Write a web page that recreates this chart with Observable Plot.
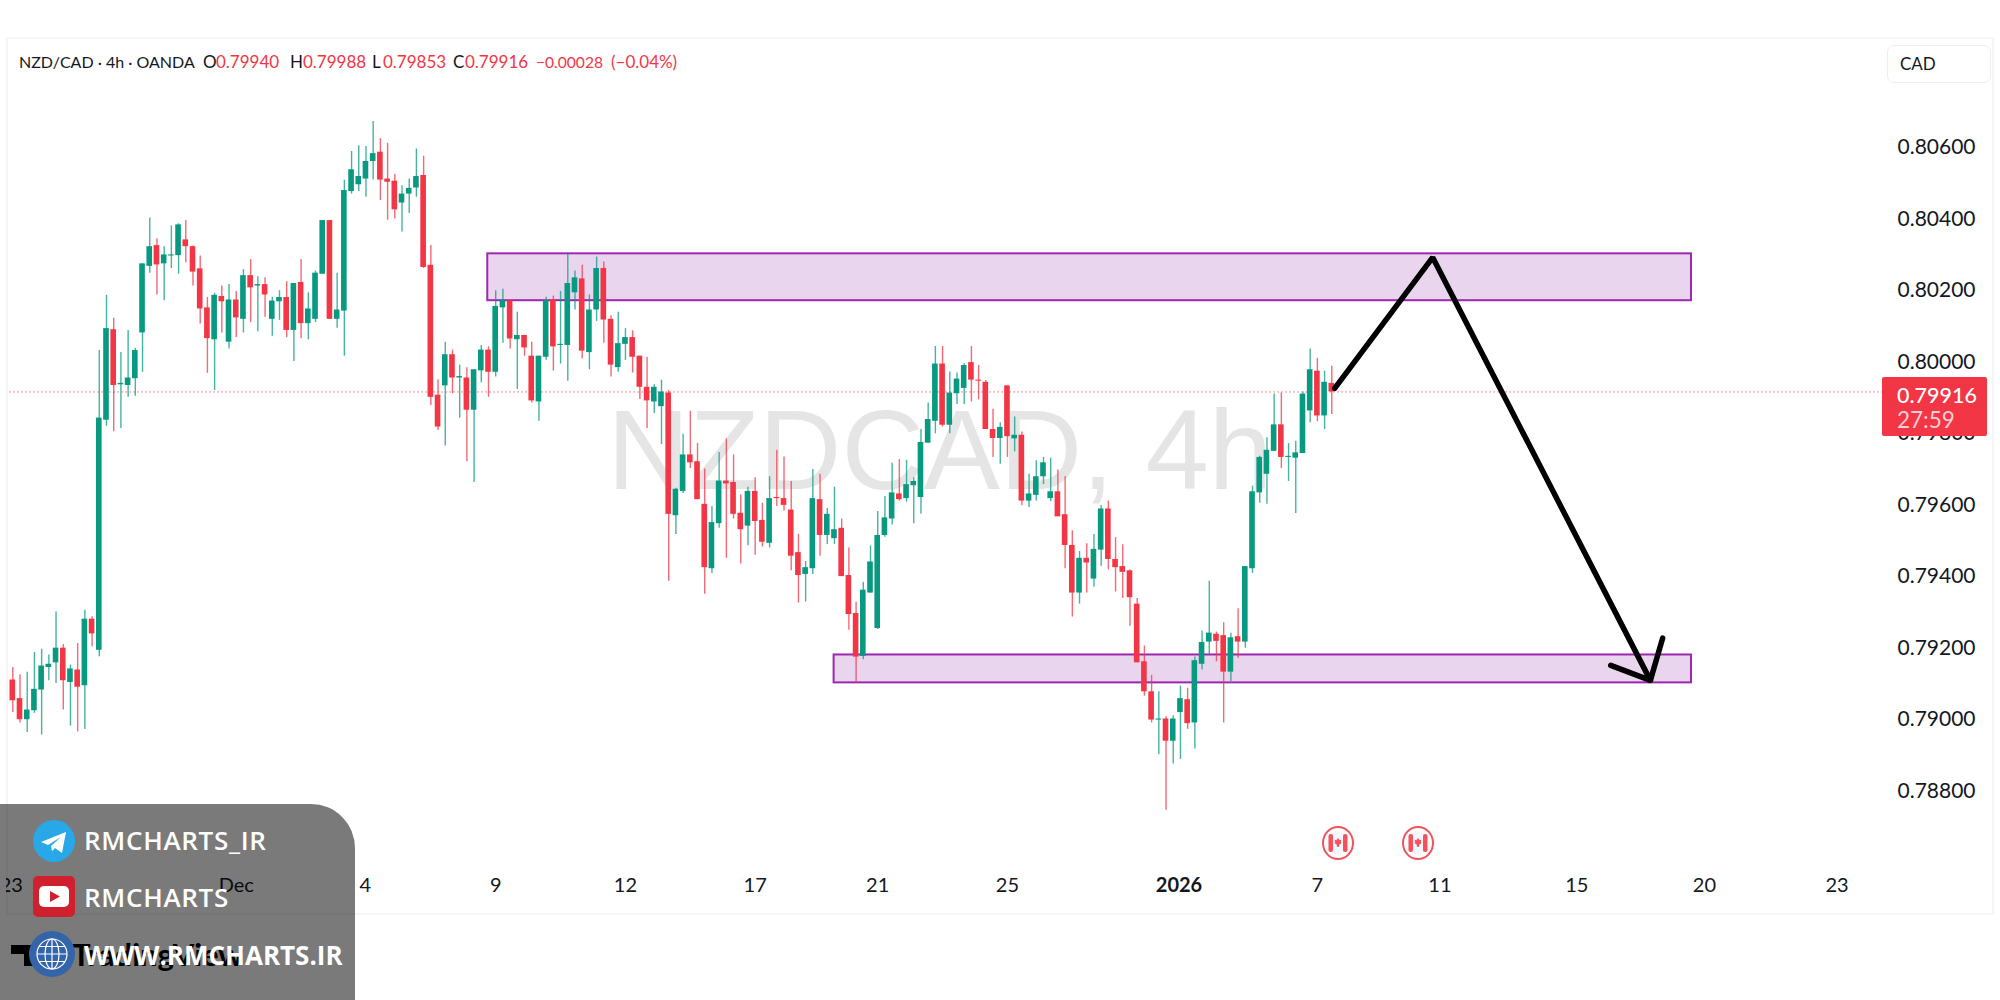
<!DOCTYPE html>
<html><head><meta charset="utf-8">
<script src="https://cdn.jsdelivr.net/npm/d3@7"></script>
<script src="https://cdn.jsdelivr.net/npm/@observablehq/plot@0.6"></script>
<style>
html,body{margin:0;padding:0;background:#fff;width:2000px;height:1000px;overflow:hidden;font-family:Lato,sans-serif}
#page{position:relative;width:2000px;height:1000px}
#chart{position:absolute;left:0;top:0}
.abs{position:absolute}
#legend{left:19px;top:52px;font-size:17px;line-height:20px;color:#131722;white-space:nowrap}
#legend b{font-weight:400;color:#f23645}
#legend span{position:absolute;top:0}
#frame{left:6px;top:37px;width:1984px;height:874px;border:2px solid #f5f5f6;border-radius:2px}
#clip{left:0;top:37px;width:6px;height:880px;background:#fff}
#cad{left:1887px;top:45px;width:102px;height:36px;border:1px solid #eceef2;border-radius:7px;background:#fff;font-size:17px;line-height:35px;color:#131722;text-indent:12px}
#tag{left:1882px;top:377px;width:105px;height:59px;background:#f23645;border-radius:2px;color:#fff}
#tag div{position:absolute;left:15px;white-space:nowrap}
#panel{left:0;top:804px;width:355px;height:196px;background:rgba(0,0,0,.52);border-top-right-radius:44px}
.wm{position:absolute;left:84px;color:#fff;font-family:"Open Sans",sans-serif;font-weight:600;font-size:26px;line-height:30px;white-space:nowrap;letter-spacing:.7px}
</style></head><body>
<div id="page">
<div id="frame" class="abs"></div>
<div id="chart"></div>
<div id="clip" class="abs"></div>
<div id="legend" class="abs"></div>
<div id="cad" class="abs">CAD</div>
<div id="tag" class="abs"></div>
<svg id="icons" class="abs" style="left:0;top:0" width="2000" height="1000"></svg>
<div id="panel" class="abs"></div>
<svg id="logos" class="abs" style="left:0;top:0" width="2000" height="1000"></svg>
<div class="wm" style="top:825px">RMCHARTS_IR</div>
<div class="wm" style="top:882px">RMCHARTS</div>
<div class="wm" style="top:940px;font-weight:700;letter-spacing:0">WWW.RMCHARTS.IR</div>
</div>
<script>
const opens=[79111,79059,79000,79025,79083,79146,79159,79200,79104,79139,
79095,79281,79194,79837,80090,79936,79934,79953,80081,80267,
80325,80274,80296,80297,80341,80322,80260,80151,80062,80183,
80055,80173,80119,80241,80212,80216,80119,80168,80180,80088,
80222,80107,80119,80245,80395,80119,80142,80476,80495,80511,
80560,80586,80511,80505,80444,80469,80486,80521,80270,79907,
79933,80020,79955,79955,79865,79975,80033,79971,80151,80171,
80062,80074,80016,79888,80013,80173,80046,80046,80193,80232,
80026,80145,80261,80119,79984,80049,80068,80016,79929,79888,
79875,79913,79570,79638,79740,79721,79602,79422,79548,79667,
79663,79577,79541,79638,79557,79493,79621,79618,79586,79467,
79406,79422,79615,79515,79506,79535,79403,79297,79177,79354,
79255,79515,79561,79631,79618,79654,79621,79773,79834,79994,
79823,79911,79926,79998,79949,79943,79811,79786,79933,79785,
79795,79611,79627,79679,79618,79637,79573,79487,79354,79451,
79393,79474,79589,79448,79428,79416,79323,79162,79078,78999,
79002,78940,79020,79056,78991,79155,79217,79239,79235,79133,
79232,79217,79422,79634,79686,79750,79824,79733,79731,79744,
79863,79974,79849,79940];
const highs=[79146,79126,79133,79188,79197,79181,79301,79210,79153,79213,
79306,79288,80032,80186,80122,80026,80088,80038,80274,80402,
80344,80322,80380,80386,80395,80324,80296,80180,80192,80212,
80216,80197,80258,80286,80238,80235,80181,80199,80224,80219,
80286,80193,80254,80395,80395,80248,80508,80588,80604,80602,
80672,80624,80611,80524,80492,80511,80595,80575,80325,79950,
80055,80033,79991,79984,79978,80046,80042,80199,80203,80171,
80139,80074,80055,80016,80181,80184,80197,80304,80254,80270,
80187,80293,80279,80129,80139,80093,80087,80016,80013,79936,
79949,79920,79647,79798,79862,79772,79701,79596,79747,79785,
79740,79628,79650,79676,79605,79679,79753,79734,79666,79518,
79442,79699,79686,79590,79650,79561,79480,79328,79384,79486,
79582,79624,79717,79727,79725,79676,79811,79885,80043,80043,
79972,79969,79995,80043,79990,79948,79868,79830,79933,79846,
79804,79686,79724,79733,79731,79698,79679,79528,79470,79492,
79518,79599,79611,79509,79489,79419,79339,79206,79124,79078,
79008,79011,79094,79088,79175,79248,79387,79245,79271,79242,
79310,79428,79653,79736,79788,79910,79913,79772,79778,79916,
80036,80010,79974,79988];
const lows=[79020,78991,78964,79018,78957,79109,79101,79027,78982,78966,
78973,79204,79176,79820,79805,79814,79901,79904,79971,80248,
80187,80171,80261,80245,80277,80212,80106,79968,79920,80081,
80036,80068,80081,80110,80084,80125,80072,80116,80068,80001,
80065,80062,80110,80245,80119,80094,80016,80469,80476,80460,
80508,80451,80396,80399,80363,80415,80460,80261,79878,79808,
79765,79911,79843,79721,79663,79942,79901,79958,80052,80036,
79923,80016,79885,79834,80004,79974,79994,79946,80145,80009,
79978,80113,80052,79958,79971,80004,79969,79895,79814,79856,
79769,79387,79518,79632,79702,79615,79351,79409,79535,79451,
79561,79435,79486,79460,79483,79480,79596,79583,79416,79326,
79329,79406,79457,79490,79490,79400,79250,79101,79168,79354,
79252,79510,79544,79611,79608,79548,79574,79773,79799,79818,
79799,79881,79881,79888,79894,79811,79733,79714,79733,79749,
79598,79593,79611,79657,79609,79567,79422,79287,79323,79354,
79370,79429,79419,79357,79339,79261,79159,79066,78991,78902,
78747,78876,78889,78973,78918,79139,79180,79162,78991,79107,
79172,79200,79409,79605,79602,79750,79702,79666,79576,79744,
79830,79833,79811,79853];
const closes=[79053,79000,79027,79085,79150,79155,79200,79109,79142,79091,
79281,79240,79843,80093,79934,79940,79955,80032,80274,80322,
80271,80299,80299,80383,80322,80251,80148,80065,80186,80168,
80173,80123,80241,80207,80216,80187,80170,80180,80088,80219,
80107,80148,80248,80395,80119,80145,80479,80537,80518,80560,
80582,80508,80502,80425,80469,80485,80518,80264,79901,79818,
80020,79955,79959,79865,79978,80033,79971,80155,80171,80064,
80074,80039,79891,80016,80171,80042,80049,80219,80235,80030,
80145,80261,80117,79991,80051,80068,80013,79929,79891,79929,
79916,79574,79644,79740,79718,79615,79425,79551,79667,79659,
79574,79531,79638,79554,79496,79618,79618,79599,79457,79403,
79425,79618,79515,79574,79531,79400,79294,79175,79362,79441,
79515,79564,79634,79615,79657,79666,79775,79839,79994,79823,
79913,79952,79990,79949,79946,79811,79786,79817,79791,79795,
79611,79631,79679,79718,79637,79567,79487,79354,79451,79438,
79476,79589,79448,79425,79412,79341,79159,79078,78999,79002,
78940,79002,79059,78989,79165,79216,79242,79219,79133,79229,
79217,79428,79637,79733,79753,79824,79733,79736,79746,79910,
79978,79849,79943,79916];
const priceUnit=1e-5;
const yTicks=[0.806,0.804,0.802,0.8,0.798,0.796,0.794,0.792,0.79,0.788];
const xTickIdx=[-0.2,31,48.9,67,85,103,120,138,181,198,217,234.7,253.1];
const xTickLabels=["23","Dec","4","9","12","17","21","25","7","11","15","20","23"];
const yearIdx=[161.8];
const yearLabels=["2026"];
const lastPrice=0.79916;
const zones=[{i1:65.9,i2:232.9,p1:0.80302,p2:0.80171},{i1:113.95,i2:232.9,p1:0.79181,p2:0.79103}];
const projection=[{i:183.4,p:0.79926},{i:197,p:0.80292},{i:227.2,p:0.7911}];
const arrowHead=[{i:221.7,p:0.79152},{i:227.2,p:0.7911},{i:228.9,p:0.79228}];
const watermark="NZDCAD, 4h";

const candles=opens.map((o,i)=>({i,o:o*priceUnit,h:highs[i]*priceUnit,l:lows[i]*priceUnit,c:closes[i]*priceUnit}));
const GREEN="#089981",RED="#f23645";
const col=d=>d.c>=d.o?GREEN:RED;
const FONT="Lato, sans-serif";

const plot=Plot.plot({
  width:2000,height:1000,
  marginLeft:0,marginTop:0,marginRight:123,marginBottom:125,
  style:{background:"transparent",fontFamily:FONT,overflow:"visible"},
  x:{domain:[0,183],range:[12.3,1331.3]},
  y:{domain:[0.806,0.788],range:[146.7,790.8]},
  marks:[
    Plot.text([watermark],{x:()=>128.6,y:()=>0.79645,text:d=>d,fontSize:114,fontFamily:"Liberation Sans, sans-serif",fill:"#e5e5e5",lineAnchor:"bottom",textAnchor:"middle"}),
    Plot.ruleY([lastPrice],{x1:()=>-0.4,x2:()=>259.4,stroke:RED,strokeWidth:1,strokeDasharray:"1.5 2.5",strokeOpacity:0.75}),
    Plot.rect(zones,{x1:"i1",x2:"i2",y1:"p1",y2:"p2",fill:"#ead5ef",stroke:"#9c27b0",strokeWidth:2}),
    Plot.ruleX(candles,{x:"i",y1:"h",y2:"l",stroke:col,strokeWidth:1.4,strokeOpacity:0.75}),
    Plot.rect(candles,{x1:d=>d.i-0.39,x2:d=>d.i+0.39,y1:"o",y2:"c",fill:col}),
    Plot.line(projection,{x:"i",y:"p",stroke:"#000",strokeWidth:5.5,strokeLinejoin:"miter",curve:"linear"}),
    Plot.line(arrowHead,{x:"i",y:"p",stroke:"#000",strokeWidth:5.5,strokeLinejoin:"miter",curve:"linear"}),
    Plot.axisY(yTicks,{anchor:"right",tickSize:0,tickPadding:20,fontSize:21,fill:"#131722",label:null,tickFormat:d3.format(".5f")}),
    Plot.axisX(xTickIdx,{anchor:"bottom",tickSize:0,tickPadding:2,fontSize:20,fill:"#131722",label:null,tickFormat:d=>xTickLabels[xTickIdx.indexOf(d)]}),
    Plot.axisX(yearIdx,{anchor:"bottom",tickSize:0,tickPadding:2,fontSize:20,fontWeight:700,fill:"#131722",label:null,tickFormat:()=>yearLabels[0]})
  ]
});
document.getElementById("chart").append(plot);

// header legend
const legendParts=[["NZD/CAD · 4h · OANDA",0,0,16],["O",184,0,17],["0.79940",197,1,17],["H",271,0,17],["0.79988",284,1,17],["L",353,0,17],["0.79853",364,1,17],["C",434,0,17],["0.79916",446,1,17],["−0.00028",517,1,15.6],["(−0.04%)",592,1,17]];
document.getElementById("legend").innerHTML=legendParts.map(([t,x,r,s])=>`<span style="left:${x}px;font-size:${s}px">${r?`<b>${t}</b>`:t}</span>`).join("");
document.getElementById("tag").innerHTML=`<div style="top:5px;font-size:21.5px;line-height:26px;font-weight:500">0.79916</div><div style="top:30px;font-size:22.5px;line-height:26px;color:#fbd0d4">27:59</div>`;

// economic-calendar flags
const flag=(cx,cy)=>`<ellipse cx="${cx}" cy="${cy}" rx="15" ry="16" fill="#fff" stroke="#f4535c" stroke-width="2"/>
<ellipse cx="${cx}" cy="${cy}" rx="11" ry="12" fill="#f4f6fc"/>
<rect x="${cx-9.5}" y="${cy-9}" width="4.5" height="18" rx="2" fill="#f4535c"/><rect x="${cx+5}" y="${cy-9}" width="4.5" height="18" rx="2" fill="#f4535c"/>
<path d="M${cx} ${cy-5}l1.7 2.2 1.7-.5-.6 2.6 1 .5-2.6 1.9v2h-2.4v-2l-2.6-1.9 1-.5-.6-2.6 1.7.5z" fill="#f4535c"/>`;
document.getElementById("icons").innerHTML=flag(1338,843)+flag(1418,843)
 +`<rect x="11" y="945" width="26" height="9" fill="#000"/><rect x="24" y="945" width="13" height="21" fill="#000"/><circle cx="46" cy="949.5" r="4.6" fill="#000"/><path d="M52 945h12l-8 21h-12z" fill="#000"/>
 <text x="72" y="966" font-family="Lato" font-weight="700" font-size="31" fill="#000">TradingView</text>`;

// social logos
let globe=`<circle cx="52" cy="954" r="23" fill="#3465ab"/><g fill="none" stroke="#fff" stroke-width="1.2"><circle cx="52" cy="954" r="15"/><ellipse cx="52" cy="954" rx="7" ry="15"/><path d="M52 939v30M37 954h30M39 946.5h26M39 961.5h26"/></g>`;
document.getElementById("logos").innerHTML=
 `<circle cx="54" cy="841" r="21" fill="#28a8e9"/><path d="M41 842l25-10-4 21-7-5-3 3-1-5 10-9-13 8z" fill="#fff"/>
  <rect x="33" y="876" width="42" height="41" rx="5" fill="#d01f2d"/><rect x="39" y="886" width="30" height="21" rx="5" fill="#fff"/><path d="M50 891l10 5.5-10 5.5z" fill="#d01f2d"/>`+globe;
</script>
</body></html>
